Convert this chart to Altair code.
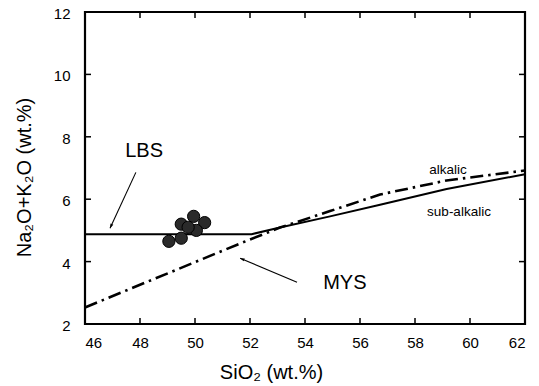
import altair as alt
import pandas as pd

# samples
sx = [49.05, 49.5, 49.5, 49.95, 50.35, 50.05, 49.75]
sy = [4.65, 4.75, 5.2, 5.45, 5.25, 5.0, 5.1]

# LBS / sub-alkalic boundary (solid)
lbs_x = [46, 52.06, 53.09, 54.91, 56.73, 59.15, 62]
lbs_y = [4.88, 4.88, 5.09, 5.45, 5.82, 6.33, 6.8]

# MYS / alkalic boundary (dash-dot)
mys_x = [46, 51.64, 53.09, 54.91, 56.73, 59.15, 62]
mys_y = [2.53, 4.58, 5.09, 5.62, 6.15, 6.6, 6.92]

xticks = [46, 48, 50, 52, 54, 56, 58, 60, 62]
yticks = [2, 4, 6, 8, 10, 12]

labels = ["LBS", "MYS", "alkalic", "sub-alkalic"]
label_x = [48.15, 55.45, 59.2, 59.6]
label_y = [7.55, 3.3, 6.92, 5.58]
label_size = [20, 20, 13.5, 13.5]

# arrows: start (x, y) -> tip (x2, y2), head angle
arr_x = [47.85, 53.71]
arr_y = [6.86, 3.34]
arr_x2 = [46.91, 51.64]
arr_y2 = [5.07, 4.11]
arr_angle = [205, 293]

W, H = 440, 312
FONT = "Liberation Sans"

xs = alt.Scale(domain=[46, 62], nice=False)
ys = alt.Scale(domain=[2, 12], nice=False)

df_s = pd.DataFrame({"x": sx, "y": sy})
df_l = pd.DataFrame({"x": lbs_x, "y": lbs_y})
df_m = pd.DataFrame({"x": mys_x, "y": mys_y})
df_lab = pd.DataFrame({"t": labels, "x": label_x, "y": label_y, "s": label_size})
df_arr = pd.DataFrame({"x": arr_x, "y": arr_y, "x2": arr_x2, "y2": arr_y2, "a": arr_angle})
df_xt = pd.DataFrame({"v": xticks[1:-1]})
df_yt = pd.DataFrame({"v": yticks[1:-1]})

xax = alt.Axis(values=xticks, format="d", ticks=False, grid=False, domain=False,
               labelPadding=11, title="SiO₂ (wt.%)", titleX=186, titleY=48,
               titleAlign="center", titleBaseline="middle", titleAnchor="start")
yax = alt.Axis(values=yticks, format="d", ticks=False, grid=False, domain=False,
               labelPadding=15, labelOffset=1.5, title="Na₂O+K₂O (wt.%)", titleX=-61, titleY=165,
               titleAngle=270, titleAlign="center", titleBaseline="middle", titleAnchor="start")

solid = alt.Chart(df_l).mark_line(color="black", strokeWidth=2).encode(
    x=alt.X("x:Q", scale=xs, axis=xax), y=alt.Y("y:Q", scale=ys, axis=yax))
dashdot = alt.Chart(df_m).mark_line(color="black", strokeWidth=2.6, strokeDash=[13, 5, 2.5, 5]).encode(
    x=alt.X("x:Q", scale=xs), y=alt.Y("y:Q", scale=ys))
pts = alt.Chart(df_s).mark_point(filled=True, shape="circle", size=150, fill="#2a2a2a",
                                 stroke="#000000", strokeWidth=1, opacity=1).encode(
    x=alt.X("x:Q", scale=xs), y=alt.Y("y:Q", scale=ys))

arrow_lines = alt.Chart(df_arr).mark_rule(color="black", strokeWidth=1.1).encode(
    x=alt.X("x:Q", scale=xs), y=alt.Y("y:Q", scale=ys), x2="x2:Q", y2="y2:Q")
heads = alt.Chart(df_arr).mark_point(shape="M0,0L-0.35,1L0.35,1Z", size=80, filled=True,
                                     color="black", opacity=1).encode(
    x=alt.X("x2:Q", scale=xs), y=alt.Y("y2:Q", scale=ys), angle=alt.Angle("a:Q", scale=None))

texts = alt.Chart(df_lab).mark_text(font=FONT, color="black", align="center", baseline="middle").encode(
    x=alt.X("x:Q", scale=xs), y=alt.Y("y:Q", scale=ys), text="t:N",
    size=alt.Size("s:Q", scale=None, legend=None))

tl = 6
tb = alt.Chart(df_xt).mark_rule(color="black", strokeWidth=1.5).encode(
    x=alt.X("v:Q", scale=xs), y=alt.value(H), y2=alt.value(H - tl))
tt = alt.Chart(df_xt).mark_rule(color="black", strokeWidth=1.5).encode(
    x=alt.X("v:Q", scale=xs), y=alt.value(0), y2=alt.value(tl))
tlft = alt.Chart(df_yt).mark_rule(color="black", strokeWidth=1.5).encode(
    y=alt.Y("v:Q", scale=ys), x=alt.value(0), x2=alt.value(tl))
trt = alt.Chart(df_yt).mark_rule(color="black", strokeWidth=1.5).encode(
    y=alt.Y("v:Q", scale=ys), x=alt.value(W), x2=alt.value(W - tl))

chart = alt.layer(solid, dashdot, arrow_lines, heads, pts, texts, tb, tt, tlft, trt).properties(
    width=W, height=H,
    autosize=alt.AutoSizeParams(type="none"),
    padding={"left": 77, "top": 4, "right": 6, "bottom": 62},
).configure_view(stroke="black", strokeWidth=2.2).configure_axis(
    labelFont=FONT, titleFont=FONT, labelFontSize=15, titleFontSize=20,
    labelColor="black", titleColor="black", titleFontWeight="normal",
)

chart.save("out.html", embed_options={"renderer": "svg", "actions": False})
